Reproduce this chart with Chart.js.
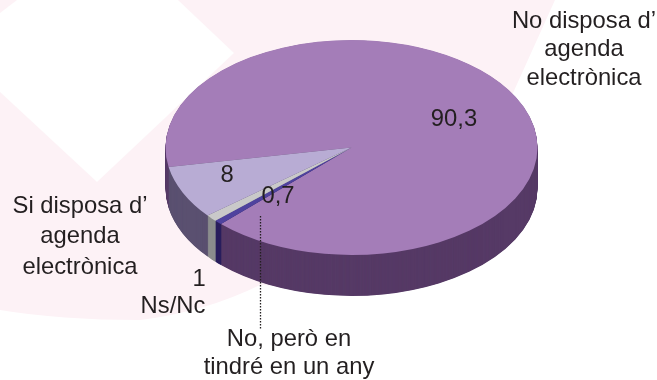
<!DOCTYPE html>
<html>
<head>
<meta charset="utf-8">
<style>html,body{margin:0;padding:0;background:#fff}canvas{display:block}</style>
<script src="https://cdn.jsdelivr.net/npm/chart.js@4"></script>
</head>
<body>
<canvas id="c" width="657" height="380"></canvas>
<script>
const categories = ["No disposa d' agenda electrònica", "No, però en tindré en un any", "Ns/Nc", "Si disposa d' agenda electrònica"];
const values = [90.3, 0.7, 1, 8];
const topColors = ["#A47DB8", "#4F429E", "#C9C9C9", "#B8ACD4"];
const sideColors = ["#563A66", "#2A1F5E", "#8B8D8D", "#5A5070"];

const view = { rx: 186, ry: 107.5, depth: 41, rotation: 259.5 };
const font = '23.8px "Liberation Sans", Arial, sans-serif';
const textColor = "#231F20";
const fmt = v => String(v).replace(".", ",");

const textBlocks = [
  { x: 584, y: 21, lines: ["No disposa d’", "agenda", "electrònica"], lh: 28.5 },
  { x: 80, y: 206, lines: ["Si disposa d’", "agenda", "electrònica"], lh: 30.5 },
  { x: 173, y: 306, lines: ["Ns/Nc"], lh: 28 },
  { x: 289, y: 339, lines: ["No, però en", "tindré en un any"], lh: 28 },
  { x: 454, y: 119, lines: [fmt(values[0])], lh: 28 },
  { x: 278, y: 196, lines: [fmt(values[1])], lh: 28 },
  { x: 199, y: 279, lines: [fmt(values[2])], lh: 28 },
  { x: 227, y: 175, lines: [fmt(values[3])], lh: 28 }
];

const backdrop = {
  id: "backdrop",
  beforeDraw(chart) {
    const c = chart.ctx;
    c.save();
    c.fillStyle = "#FDF2F6";
    c.beginPath();
    c.moveTo(0, 0); c.lineTo(555, 0); c.lineTo(513, 93); c.lineTo(400, 290);
    c.lineTo(260, 285); c.quadraticCurveTo(205, 312, 140, 320);
    c.quadraticCurveTo(60, 320, 0, 310); c.closePath();
    c.fill();
    c.fillStyle = "#FFFFFF";
    c.beginPath();
    c.moveTo(17, 0); c.lineTo(178, 0); c.lineTo(234, 53); c.lineTo(97, 182);
    c.lineTo(0, 92); c.lineTo(0, 13); c.closePath();
    c.fill();
    c.restore();
  }
};

const tilt = {
  id: "tilt",
  beforeDatasetDraw(chart, args) {
    const c = chart.ctx;
    const meta = args.meta;
    const first = meta.data[0];
    const k = view.ry / view.rx;
    c.save();
    c.translate(first.x, first.y);
    c.scale(1, k);
    c.translate(-first.x, -first.y);
    for (let d = view.depth * 2; d >= 1; d--) {
      c.save();
      c.translate(0, d / 2 / k);
      meta.data.forEach((arc, i) => {
        const o = arc.options;
        arc.options = Object.assign({}, o, { backgroundColor: sideColors[i], borderWidth: 0 });
        arc.draw(c);
        arc.options = o;
      });
      c.restore();
    }
  },
  afterDatasetDraw(chart) {
    chart.ctx.restore();
  },
  afterDraw(chart) {
    const c = chart.ctx;
    c.save();
    c.strokeStyle = "#231F20";
    c.lineWidth = 1.3;
    c.setLineDash([1.5, 1.5]);
    c.beginPath();
    c.moveTo(260.5, 216); c.lineTo(260.5, 330);
    c.stroke();
    c.setLineDash([]);
    c.font = font;
    c.fillStyle = textColor;
    c.textAlign = "center";
    c.textBaseline = "middle";
    textBlocks.forEach(b => b.lines.forEach((t, i) => c.fillText(t, b.x, b.y + i * b.lh)));
    c.restore();
  }
};

new Chart(document.getElementById("c"), {
  type: "pie",
  data: {
    labels: categories,
    datasets: [{
      data: values,
      backgroundColor: topColors,
      borderWidth: 0,
      radius: view.rx,
      rotation: view.rotation,
      clip: false
    }]
  },
  options: {
    responsive: false,
    animation: false,
    layout: { padding: { left: 46, bottom: 85 } },
    plugins: { legend: { display: false }, tooltip: { enabled: false } }
  },
  plugins: [backdrop, tilt]
});
</script>
</body>
</html>
